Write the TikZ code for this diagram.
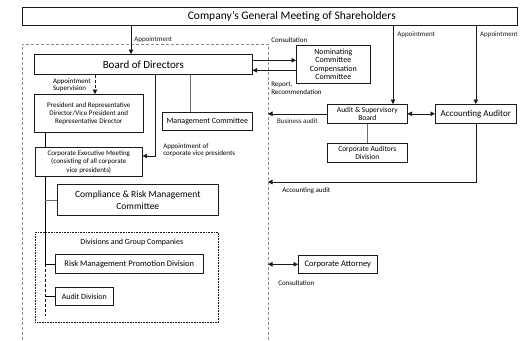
\documentclass[tikz,border=0pt]{standalone}
\usepackage{fontspec}
\setmainfont{Carlito}
\usetikzlibrary{arrows.meta}
\definecolor{linec}{HTML}{1A1A1A}
\definecolor{framec}{HTML}{8C8C8C}
\definecolor{tiec}{HTML}{6E6E6E}

\begin{document}
\begin{tikzpicture}[x=1pt, y=-1pt, line width=0.6pt,
  box/.style={draw=linec, anchor=north west, align=center, inner sep=1pt},
  arr/.style={-{Triangle[length=4.5pt, width=4.5pt]}, linec},
  dbl/.style={{Triangle[length=4.5pt, width=4.5pt]}-{Triangle[length=4.5pt, width=4.5pt]}, linec},
  lbl/.style={font=\fontsize{7}{7.5}\selectfont, inner sep=0pt, align=left}]
  \useasboundingbox (0,0) rectangle (529,340);

  % dashed frame round the executive side
  \draw[framec, line width=0.8pt, dash pattern=on 3pt off 2pt] (22,340) -- (22,44) -- (268,44) -- (268,340);
  \coordinate (fr) at (268,0);
  \coordinate (trunk) at (45,0);

  % boxes
  \node[box, minimum width=495, minimum height=18] (gm) at (22,7) {};
  \node[font=\fontsize{11.5}{12}\selectfont, inner sep=0pt] (gmt) at ([xshift=22pt]gm.center) {Company's General Meeting of Shareholders};
  \node[box, minimum width=218, minimum height=20, font=\fontsize{11}{12}\selectfont] (board) at (34,54) {Board of Directors};
  \node[box, minimum width=74, minimum height=38, font=\fontsize{8}{8.5}\selectfont] (nomc) at (296,45) {Nominating\\Committee\\Compensation\\Committee};
  \node[box, minimum width=80, minimum height=19, font=\fontsize{7.5}{8.5}\selectfont] (asb) at (327,104) {Audit \& Supervisory\\Board};
  \node[box, minimum width=81, minimum height=19, font=\fontsize{9}{10}\selectfont] (aa) at (435,104) {Accounting Auditor};
  \node[box, minimum width=80, minimum height=19, font=\fontsize{7.5}{8.5}\selectfont] (cad) at (327,143) {Corporate Auditors\\Division};
  \node[box, minimum width=109, minimum height=38, font=\fontsize{7}{8}\selectfont] (pres) at (34,94) {President and Representative\\Director/Vice President and\\Representative Director};
  \node[box, minimum width=90, minimum height=18, font=\fontsize{8}{9}\selectfont] (mgmt) at (162,112) {Management Committee};
  \node[box, minimum width=107, minimum height=29, font=\fontsize{7}{8.5}\selectfont] (cem) at (35,147) {Corporate Executive Meeting\\(consisting of all corporate\\vice presidents)};
  \node[box, minimum width=161, minimum height=31, font=\fontsize{9.5}{12}\selectfont] (crm) at (57,184) {Compliance \& Risk Management\\Committee};
  \node[box, densely dotted, minimum width=183, minimum height=90] (div) at (35,232) {};
  \node[lbl, font=\fontsize{8}{9}\selectfont, below=7pt, xshift=5pt] (divl) at (div.north) {Divisions and Group Companies};
  \node[box, minimum width=148, minimum height=19, font=\fontsize{8.5}{9.5}\selectfont] (rmpd) at (55,254) {Risk Management Promotion Division};
  \node[box, minimum width=58, minimum height=18, font=\fontsize{8}{9}\selectfont] (audd) at (55,287) {Audit Division};
  \node[box, minimum width=79, minimum height=18, font=\fontsize{8.5}{9.5}\selectfont] (atty) at (298,255) {Corporate Attorney};

  % shareholders appoint
  \coordinate (ap) at (131,0);
  \coordinate (ap2) at (393,0);
  \draw[arr] (gm.south -| ap) -- node[lbl, right=3pt]{Appointment} (board.north -| ap);
  \draw[arr] (gm.south -| ap2) -- node[lbl, pos=0.12, right=4pt]{Appointment} (asb.north -| ap2);
  \draw[arr] (gm.south -| aa.north) -- node[lbl, pos=0.12, right=4pt]{Appointment} (aa.north);

  % board and committees
  \draw[arr] ([yshift=4pt]board.east) -- ([yshift=4pt]board.east -| nomc.west);
  \draw[arr] ([yshift=-6pt]board.east -| nomc.west) -- ([yshift=-6pt]board.east);
  \node[lbl, anchor=west] (consl) at (271,40) {Consultation};
  \node[lbl, anchor=north west] (repl) at (271,82) {Report,\\Recommendation};

  % audit side
  \draw[dbl] (asb.east) -- (aa.west);
  \draw[arr] (asb.west) -- node[lbl, below=5pt]{Business audit} (asb.west -| fr);
  \draw[tiec] (asb.south) -- (cad.north);
  \coordinate (acc) at (268,182);
  \draw[arr] (aa.south) |- (acc);
  \node[lbl, anchor=west] (accl) at (282,191) {Accounting audit};

  % executive side
  \coordinate (sup) at (95,0);
  \draw[arr, densely dashed] (board.south -| sup) -- (pres.north -| sup);
  \node[lbl, anchor=east] (supl) at (91,85) {Appointment\\Supervision};
  \coordinate (mc) at (190,0);
  \draw[tiec] (board.south -| mc) -- (mgmt.north -| mc);
  \coordinate (vp) at (155,156);
  \draw[arr] (board.south -| vp) -- (vp) -- (cem.east |- vp);
  \node[lbl, anchor=north west] (vpl) at (163,143) {Appointment of\\corporate vice presidents};

  % reporting line down the left
  \draw (pres.south -| trunk) -- (cem.north -| trunk);
  \draw (cem.south -| trunk) |- (rmpd.west);
  \draw[tiec] (crm.west -| trunk) -- (crm.west);
  \coordinate (tend) at (45,316);
  \draw[densely dashed] (rmpd.west -| trunk) -- (tend);
  \draw (audd.west -| trunk) -- (audd.west);

  % outside counsel
  \draw[dbl] (atty.west -| fr) -- (atty.west);
  \node[lbl, anchor=west] (attl) at (278,283) {Consultation};
\end{tikzpicture}
\end{document}
